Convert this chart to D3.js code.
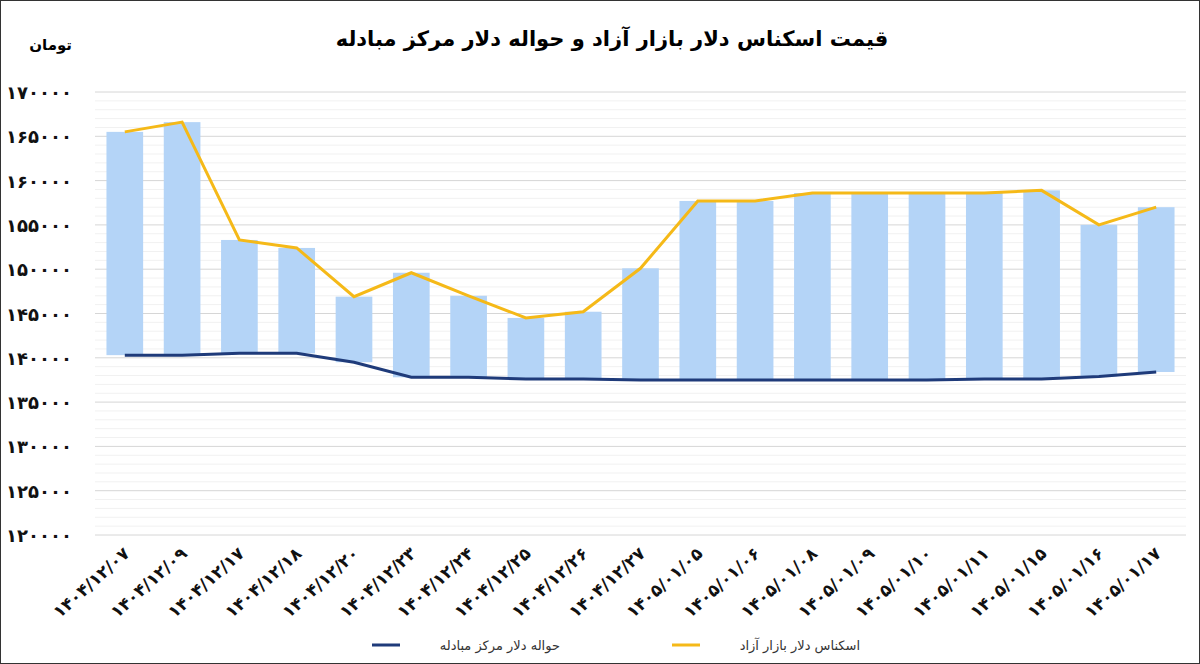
<!DOCTYPE html>
<html><head><meta charset="utf-8">
<script src="https://cdn.jsdelivr.net/npm/d3@7"></script>
<style>body{margin:0;background:#fff;} svg{display:block;font-family:"DejaVu Sans","Noto Sans",sans-serif;}</style>
</head><body><div id="chart-area"></div>
<script>
var dates = ["۱۴۰۴/۱۲/۰۷","۱۴۰۴/۱۲/۰۹","۱۴۰۴/۱۲/۱۷","۱۴۰۴/۱۲/۱۸","۱۴۰۴/۱۲/۲۰","۱۴۰۴/۱۲/۲۳","۱۴۰۴/۱۲/۲۴","۱۴۰۴/۱۲/۲۵","۱۴۰۴/۱۲/۲۶","۱۴۰۴/۱۲/۲۷",
  "۱۴۰۵/۰۱/۰۵","۱۴۰۵/۰۱/۰۶","۱۴۰۵/۰۱/۰۸","۱۴۰۵/۰۱/۰۹","۱۴۰۵/۰۱/۱۰","۱۴۰۵/۰۱/۱۱","۱۴۰۵/۰۱/۱۵","۱۴۰۵/۰۱/۱۶","۱۴۰۵/۰۱/۱۷"];
var freeMarket = [165500,166600,153300,152400,146900,149600,147000,144500,145200,150100,157700,157700,158600,158600,158600,158600,158900,155000,157000];
var exchangeCenter = [140300,140300,140500,140500,139500,137800,137800,137600,137600,137500,137500,137500,137500,137500,137500,137600,137600,137900,138400];
var yTicks = [120000,125000,130000,135000,140000,145000,150000,155000,160000,165000,170000];

var W = 1200, H = 664;
var margin = {top: 92, left: 95, right: 14, bottom: 129};
var svg = d3.select("#chart-area").append("svg").attr("width", W).attr("height", H);
svg.append("rect").attr("x",0.5).attr("y",0.5).attr("width",W-1).attr("height",H-1).attr("fill","#fff").attr("stroke","#333");

var x = d3.scaleBand().domain(dates).range([margin.left, W - margin.right]).paddingInner(0.36).paddingOuter(0.2);
var y = d3.scaleLinear().domain([120000, 170000]).range([H - margin.bottom, margin.top]);
var fa = function(v){ return String(v).replace(/\d/g, function(c){ return "۰۱۲۳۴۵۶۷۸۹"[+c]; }); };

// minor and major grid
svg.append("g").selectAll("line").data(d3.range(120000, 170001, 1000)).enter().append("line")
  .attr("x1", margin.left).attr("x2", W - margin.right).attr("y1", function(d){ return y(d); }).attr("y2", function(d){ return y(d); })
  .attr("stroke", function(d){ return d % 5000 === 0 ? "#d6d6d6" : "#f1f1f1"; }).attr("stroke-width", 1);

svg.append("g").selectAll("text").data(yTicks).enter().append("text")
  .attr("x", 72).attr("y", function(d){ return y(d) + 7; }).attr("text-anchor","end")
  .attr("font-size","18px").attr("font-weight","bold").attr("fill","#111").text(function(d){ return fa(d); });

svg.append("text").attr("x",72).attr("y",50).attr("text-anchor","end").attr("font-size","15px").attr("font-weight","bold").text("تومان");

svg.append("text").attr("x", 612).attr("y", 46).attr("text-anchor","middle").attr("font-size","21px").attr("font-weight","bold")
  .text("قیمت اسکناس دلار بازار آزاد و حواله دلار مرکز مبادله");

// floating bars
svg.append("g").selectAll("rect").data(dates).enter().append("rect")
  .attr("x", function(d){ return x(d); }).attr("width", x.bandwidth())
  .attr("y", function(d,i){ return y(freeMarket[i]); })
  .attr("height", function(d,i){ return y(exchangeCenter[i]) - y(freeMarket[i]); })
  .attr("fill", "#b4d4f7");

var cx = function(d){ return x(d) + x.bandwidth()/2; };
var lineTop = d3.line().x(function(d){ return cx(d); }).y(function(d,i){ return y(freeMarket[i]); });
var lineBot = d3.line().x(function(d){ return cx(d); }).y(function(d,i){ return y(exchangeCenter[i]); });
svg.append("path").attr("d", lineBot(dates)).attr("fill","none").attr("stroke","#1f3b7a").attr("stroke-width",3);
svg.append("path").attr("d", lineTop(dates)).attr("fill","none").attr("stroke","#f5b918").attr("stroke-width",3);

// x labels
svg.append("g").selectAll("text").data(dates).enter().append("text")
  .attr("transform", function(d){ return "translate(" + (cx(d) + 6) + "," + (H - margin.bottom + 20) + ") rotate(-42)"; })
  .attr("text-anchor","end").attr("direction","ltr").attr("font-size","17px").attr("font-weight","bold").attr("fill","#111")
  .text(function(d){ return d; });

// legend
var leg = [{t:"اسکناس دلار بازار آزاد", c:"#f5b918", x:860}, {t:"حواله دلار مرکز مبادله", c:"#1f3b7a", x:560}];
leg.forEach(function(l){
  svg.append("line").attr("x1", l.x - 188).attr("x2", l.x - 160).attr("y1", 645).attr("y2", 645).attr("stroke", l.c).attr("stroke-width", 3);
  svg.append("text").attr("x", l.x).attr("y", 650).attr("text-anchor","end").attr("font-size","13px").attr("fill","#333").text(l.t);
});
</script></body></html>
